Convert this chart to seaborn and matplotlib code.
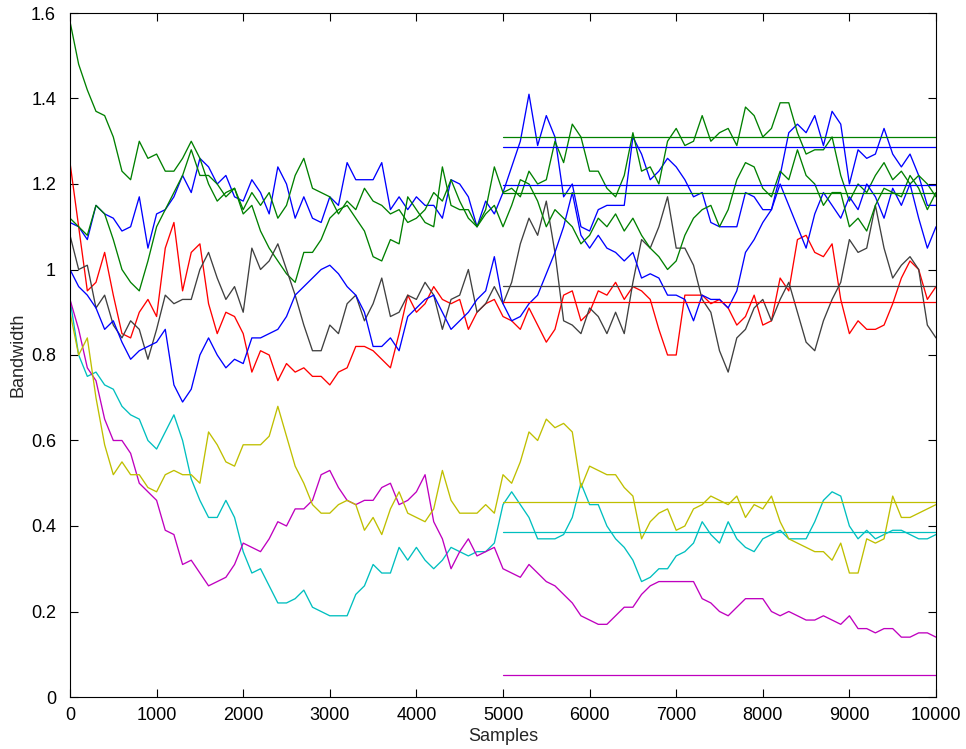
import numpy as np
import pandas as pd
import matplotlib
matplotlib.use("Agg")
import matplotlib.pyplot as plt
import seaborn as sns

# Sample positions shared by every trace (one reading every 100 samples)
samples = np.arange(0, 10001, 100)

blue_a = [1.11, 1.10, 1.07, 1.15, 1.13, 1.12, 1.09, 1.10, 1.17, 1.05, 1.13, 1.14, 1.17, 1.22, 1.18, 1.26, 1.24, 1.20, 1.22, 1.17,
          1.16, 1.21, 1.18, 1.13, 1.24, 1.20, 1.12, 1.17, 1.12, 1.11, 1.17, 1.15, 1.25, 1.21, 1.21, 1.21, 1.25, 1.14, 1.17, 1.14,
          1.17, 1.15, 1.15, 1.12, 1.21, 1.20, 1.17, 1.10, 1.16, 1.13, 1.18, 1.24, 1.30, 1.41, 1.29, 1.36, 1.31, 1.17, 1.20, 1.10,
          1.09, 1.14, 1.15, 1.15, 1.15, 1.31, 1.27, 1.21, 1.23, 1.26, 1.24, 1.21, 1.17, 1.18, 1.11, 1.10, 1.10, 1.10, 1.18, 1.17,
          1.14, 1.14, 1.22, 1.32, 1.34, 1.32, 1.36, 1.29, 1.37, 1.34, 1.20, 1.28, 1.26, 1.27, 1.33, 1.27, 1.24, 1.27, 1.22, 1.15,
          1.15]
green_a = [1.58, 1.48, 1.42, 1.37, 1.36, 1.31, 1.23, 1.21, 1.30, 1.26, 1.27, 1.23, 1.23, 1.26, 1.30, 1.26, 1.20, 1.16, 1.18, 1.19,
           1.13, 1.15, 1.09, 1.05, 1.02, 0.99, 0.97, 1.04, 1.04, 1.07, 1.12, 1.14, 1.15, 1.12, 1.09, 1.03, 1.02, 1.07, 1.06, 1.17,
           1.14, 1.11, 1.10, 1.24, 1.15, 1.14, 1.14, 1.10, 1.14, 1.24, 1.18, 1.19, 1.17, 1.23, 1.20, 1.21, 1.30, 1.25, 1.34, 1.31,
           1.23, 1.23, 1.19, 1.17, 1.22, 1.32, 1.23, 1.24, 1.20, 1.30, 1.33, 1.29, 1.30, 1.36, 1.30, 1.32, 1.33, 1.29, 1.38, 1.36,
           1.31, 1.33, 1.39, 1.39, 1.32, 1.27, 1.28, 1.28, 1.31, 1.22, 1.16, 1.20, 1.18, 1.22, 1.25, 1.21, 1.23, 1.20, 1.22, 1.20,
           1.17]
red = [1.25, 1.10, 0.95, 0.97, 1.04, 0.94, 0.85, 0.84, 0.90, 0.93, 0.89, 1.05, 1.11, 0.95, 1.04, 1.06, 0.92, 0.85, 0.90, 0.89,
       0.85, 0.76, 0.81, 0.80, 0.74, 0.78, 0.76, 0.77, 0.75, 0.75, 0.73, 0.76, 0.77, 0.82, 0.82, 0.81, 0.79, 0.77, 0.85, 0.94,
       0.90, 0.92, 0.96, 0.93, 0.92, 0.93, 0.86, 0.90, 0.92, 0.93, 0.89, 0.88, 0.86, 0.91, 0.87, 0.83, 0.86, 0.94, 0.95, 0.88,
       0.90, 0.95, 0.94, 0.97, 0.93, 0.96, 0.95, 0.93, 0.86, 0.80, 0.80, 0.94, 0.94, 0.94, 0.92, 0.93, 0.91, 0.87, 0.89, 0.94,
       0.87, 0.88, 0.98, 0.95, 1.07, 1.08, 1.04, 1.03, 1.06, 0.93, 0.85, 0.88, 0.86, 0.86, 0.87, 0.92, 0.98, 1.02, 1.00, 0.93,
       0.96]
cyan = [0.93, 0.80, 0.75, 0.76, 0.73, 0.72, 0.68, 0.66, 0.65, 0.60, 0.58, 0.62, 0.66, 0.60, 0.51, 0.46, 0.42, 0.42, 0.46, 0.42,
        0.34, 0.29, 0.30, 0.26, 0.22, 0.22, 0.23, 0.25, 0.21, 0.20, 0.19, 0.19, 0.19, 0.24, 0.26, 0.31, 0.29, 0.29, 0.35, 0.32,
        0.35, 0.32, 0.30, 0.32, 0.35, 0.34, 0.33, 0.34, 0.34, 0.36, 0.45, 0.48, 0.45, 0.42, 0.37, 0.37, 0.37, 0.38, 0.42, 0.50,
        0.45, 0.45, 0.40, 0.37, 0.35, 0.32, 0.27, 0.28, 0.30, 0.30, 0.33, 0.34, 0.36, 0.41, 0.38, 0.36, 0.41, 0.37, 0.35, 0.34,
        0.37, 0.38, 0.39, 0.37, 0.37, 0.37, 0.41, 0.46, 0.48, 0.47, 0.40, 0.37, 0.39, 0.37, 0.38, 0.39, 0.39, 0.38, 0.37, 0.37,
        0.38]
magenta = [0.93, 0.86, 0.77, 0.74, 0.65, 0.60, 0.60, 0.57, 0.50, 0.48, 0.46, 0.39, 0.38, 0.31, 0.32, 0.29, 0.26, 0.27, 0.28, 0.31,
           0.36, 0.35, 0.34, 0.37, 0.41, 0.40, 0.44, 0.44, 0.46, 0.52, 0.53, 0.49, 0.46, 0.45, 0.46, 0.46, 0.49, 0.50, 0.45, 0.46,
           0.48, 0.52, 0.41, 0.37, 0.30, 0.34, 0.37, 0.33, 0.34, 0.35, 0.30, 0.29, 0.28, 0.31, 0.29, 0.27, 0.26, 0.24, 0.22, 0.19,
           0.18, 0.17, 0.17, 0.19, 0.21, 0.21, 0.24, 0.26, 0.27, 0.27, 0.27, 0.27, 0.27, 0.23, 0.22, 0.20, 0.19, 0.21, 0.23, 0.23,
           0.23, 0.20, 0.19, 0.20, 0.19, 0.18, 0.18, 0.19, 0.18, 0.17, 0.19, 0.16, 0.16, 0.15, 0.16, 0.16, 0.14, 0.14, 0.15, 0.15,
           0.14]
yellow = [0.90, 0.80, 0.84, 0.70, 0.59, 0.52, 0.55, 0.52, 0.52, 0.49, 0.48, 0.52, 0.53, 0.52, 0.52, 0.50, 0.62, 0.59, 0.55, 0.54,
          0.59, 0.59, 0.59, 0.61, 0.68, 0.61, 0.54, 0.50, 0.45, 0.43, 0.43, 0.45, 0.46, 0.45, 0.39, 0.42, 0.38, 0.44, 0.48, 0.43,
          0.42, 0.41, 0.44, 0.53, 0.46, 0.43, 0.43, 0.43, 0.45, 0.43, 0.52, 0.50, 0.55, 0.62, 0.60, 0.65, 0.63, 0.64, 0.62, 0.49,
          0.54, 0.53, 0.52, 0.52, 0.49, 0.47, 0.37, 0.41, 0.43, 0.44, 0.39, 0.40, 0.44, 0.45, 0.47, 0.46, 0.45, 0.47, 0.42, 0.45,
          0.44, 0.47, 0.41, 0.37, 0.36, 0.35, 0.34, 0.34, 0.32, 0.36, 0.29, 0.29, 0.37, 0.36, 0.37, 0.47, 0.42, 0.42, 0.43, 0.44,
          0.45]
gray = [1.08, 1.00, 1.01, 0.91, 0.94, 0.87, 0.84, 0.88, 0.86, 0.79, 0.86, 0.94, 0.92, 0.93, 0.93, 1.00, 1.04, 0.98, 0.93, 0.96,
        0.90, 1.05, 1.00, 1.02, 1.06, 1.00, 0.94, 0.87, 0.81, 0.81, 0.87, 0.85, 0.92, 0.94, 0.88, 0.92, 0.98, 0.89, 0.90, 0.94,
        0.93, 0.97, 0.94, 0.86, 0.93, 0.94, 1.00, 0.90, 0.92, 0.96, 0.92, 0.97, 1.06, 1.12, 1.08, 1.16, 1.04, 0.88, 0.87, 0.85,
        0.91, 0.89, 0.85, 0.90, 0.85, 0.97, 1.07, 1.05, 1.10, 1.17, 1.05, 1.05, 1.01, 0.93, 0.90, 0.81, 0.76, 0.84, 0.86, 0.91,
        0.93, 0.88, 0.93, 0.97, 0.90, 0.83, 0.81, 0.88, 0.93, 0.97, 1.07, 1.04, 1.05, 1.15, 1.05, 0.98, 1.01, 1.03, 1.00, 0.87,
        0.84]
blue_b = [1.00, 0.96, 0.94, 0.91, 0.86, 0.88, 0.83, 0.79, 0.81, 0.82, 0.83, 0.86, 0.73, 0.69, 0.72, 0.80, 0.84, 0.80, 0.77, 0.79,
          0.78, 0.84, 0.84, 0.85, 0.86, 0.89, 0.94, 0.96, 0.98, 1.00, 1.01, 0.99, 0.96, 0.94, 0.90, 0.82, 0.82, 0.84, 0.81, 0.89,
          0.91, 0.93, 0.94, 0.90, 0.86, 0.88, 0.90, 0.93, 0.95, 1.03, 0.92, 0.88, 0.89, 0.92, 0.94, 0.99, 1.04, 1.10, 1.18, 1.08,
          1.05, 1.08, 1.05, 1.04, 1.02, 1.04, 0.98, 0.99, 0.98, 0.94, 0.94, 0.93, 0.88, 0.94, 0.93, 0.93, 0.91, 0.95, 1.04, 1.07,
          1.11, 1.14, 1.20, 1.15, 1.10, 1.05, 1.13, 1.18, 1.15, 1.12, 1.17, 1.14, 1.20, 1.17, 1.12, 1.19, 1.15, 1.20, 1.12, 1.05,
          1.10]
green_b = [1.12, 1.10, 1.08, 1.15, 1.13, 1.07, 1.00, 0.97, 0.95, 1.02, 1.10, 1.14, 1.18, 1.22, 1.28, 1.22, 1.22, 1.20, 1.17, 1.19,
           1.14, 1.18, 1.15, 1.18, 1.12, 1.15, 1.22, 1.26, 1.19, 1.18, 1.17, 1.13, 1.16, 1.14, 1.19, 1.16, 1.15, 1.13, 1.14, 1.11,
           1.12, 1.14, 1.18, 1.16, 1.21, 1.16, 1.12, 1.10, 1.13, 1.15, 1.10, 1.15, 1.21, 1.20, 1.16, 1.10, 1.14, 1.12, 1.10, 1.06,
           1.08, 1.12, 1.10, 1.13, 1.09, 1.12, 1.08, 1.05, 1.03, 1.00, 1.02, 1.08, 1.12, 1.14, 1.15, 1.10, 1.14, 1.21, 1.25, 1.24,
           1.19, 1.17, 1.23, 1.21, 1.28, 1.22, 1.20, 1.15, 1.18, 1.18, 1.10, 1.12, 1.09, 1.15, 1.19, 1.18, 1.17, 1.22, 1.19, 1.14,
           1.18]

series_names = ["blue_a", "green_a", "red", "cyan", "magenta", "yellow", "gray", "blue_b", "green_b"]
series_values = [blue_a, green_a, red, cyan, magenta, yellow, gray, blue_b, green_b]
series_colors = [(0, 0, 1), (0, 0.5, 0), (1, 0, 0), (0, 0.75, 0.75), (0.75, 0, 0.75),
                 (0.75, 0.75, 0), (0.25, 0.25, 0.25), (0, 0, 1), (0, 0.5, 0)]

# True bandwidth of each trace over the second half of the run
true_levels = [1.287, 1.310, 0.924, 0.387, 0.052, 0.455, 0.961, 1.198, 1.179]
level_span = [5000, 10000]

sns.set_theme(style="white")
plt.rcParams["font.family"] = ["Liberation Sans", "DejaVu Sans"]

frames = []
for name, vals in zip(series_names, series_values):
    frames.append(pd.DataFrame({"Samples": samples, "Bandwidth": vals, "series": name}))
df = pd.concat(frames, ignore_index=True)

lev_df = pd.DataFrame({
    "Samples": np.tile(level_span, len(series_names)),
    "Bandwidth": np.repeat(true_levels, 2),
    "series": np.repeat(series_names, 2),
})

palette = dict(zip(series_names, series_colors))

fig = plt.figure(figsize=(9.66, 7.49), dpi=100)
ax = fig.add_axes([70 / 966, 1 - 697 / 749, 866 / 966, 684 / 749])

sns.lineplot(data=df, x="Samples", y="Bandwidth", hue="series", palette=palette,
             hue_order=series_names, estimator=None, sort=False, lw=0.95, legend=False, ax=ax)
sns.lineplot(data=lev_df, x="Samples", y="Bandwidth", hue="series", palette=palette,
             hue_order=series_names, estimator=None, sort=False, lw=0.9, legend=False, ax=ax)

ax.set_xlim(0, 10000)
ax.set_ylim(0, 1.6)
ax.set_xticks(np.arange(0, 10001, 1000))
ax.set_yticks(np.arange(0, 1.61, 0.2))
ax.set_xticklabels([str(v) for v in range(0, 10001, 1000)])
ax.set_yticklabels(["0", "0.2", "0.4", "0.6", "0.8", "1", "1.2", "1.4", "1.6"])
ax.tick_params(direction="in", length=5.8, width=0.8, colors="black", labelsize=13,
               top=True, right=True, bottom=True, left=True)
ax.tick_params(axis="x", pad=7)
ax.tick_params(axis="y", pad=10)
for sp in ax.spines.values():
    sp.set_visible(True)
    sp.set_color("black")
    sp.set_linewidth(0.8)
ax.set_xlabel("Samples", fontsize=13, labelpad=3)
ax.set_ylabel("Bandwidth", fontsize=13, labelpad=3)
ax.grid(False)

fig.savefig("out.png", dpi=100, facecolor="white")
